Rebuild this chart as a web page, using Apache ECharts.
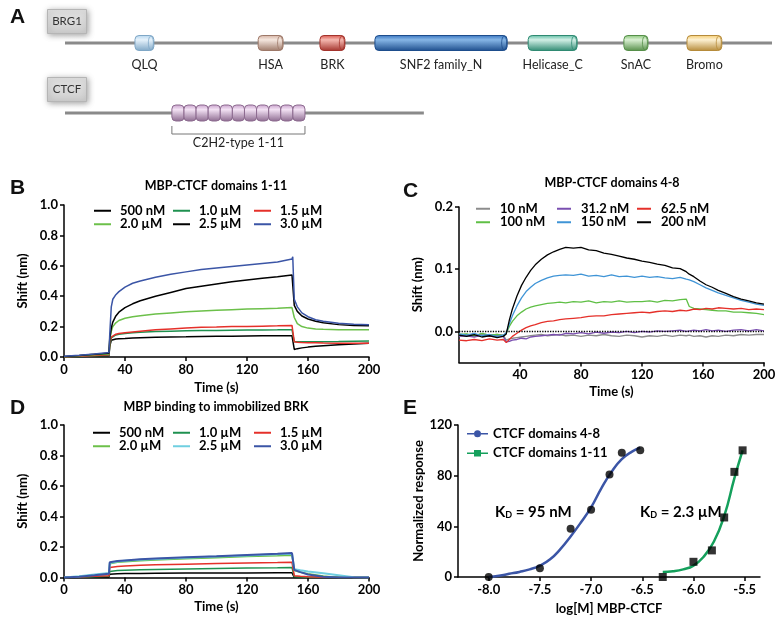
<!DOCTYPE html>
<html>
<head>
<meta charset="utf-8">
<script src="https://cdn.jsdelivr.net/npm/echarts@6/dist/echarts.min.js"></script>
<style>
  html, body { margin: 0; padding: 0; background: #fff; }
  #main { width: 780px; height: 622px; }
</style>
</head>
<body>
<div id="main"></div>
<script>
// ---- panel A: domain maps (positions in residues) ----
const brg1Length = 1647;
const ctcfLength = 836;
const brg1Domains = [
    ['QLQ', 163, 207],
    ['HSA', 450, 508],
    ['BRK', 594, 652],
    ['SNF2 family_N', 722, 1030],
    ['Helicase_C', 1079, 1193],
    ['SnAC', 1302, 1358],
    ['Bromo', 1449, 1530],
];
const ctcfFingers = ['C2H2-type 1-11', 249, 559, 11];

// ---- panel B: MBP-CTCF domains 1-11 ----
const bTime = [0, 10, 20, 29.5, 30, 31, 32, 34, 36, 40, 45, 50, 60, 70, 80, 90, 100, 110, 120, 130, 140, 149.5, 150, 151, 153, 156, 160, 165, 170, 180, 190, 200];
const b500 = [0, 0.003, 0.006, 0.01, 0.07, 0.11, 0.115, 0.118, 0.12, 0.122, 0.125, 0.127, 0.13, 0.132, 0.133, 0.135, 0.136, 0.137, 0.138, 0.139, 0.14, 0.14, 0.14, 0.05, 0.055, 0.06, 0.065, 0.07, 0.074, 0.08, 0.085, 0.09];
const b1000 = [0, 0.004, 0.008, 0.012, 0.08, 0.125, 0.135, 0.145, 0.15, 0.155, 0.16, 0.163, 0.167, 0.17, 0.172, 0.174, 0.175, 0.176, 0.177, 0.178, 0.179, 0.18, 0.18, 0.1, 0.1, 0.1, 0.1, 0.1, 0.101, 0.102, 0.104, 0.105];
const b1500 = [0, 0.005, 0.01, 0.015, 0.09, 0.13, 0.14, 0.15, 0.155, 0.16, 0.165, 0.17, 0.18, 0.185, 0.19, 0.195, 0.197, 0.2, 0.2, 0.203, 0.205, 0.208, 0.21, 0.1, 0.097, 0.095, 0.094, 0.093, 0.092, 0.091, 0.09, 0.09];
const b2000 = [0.002, 0.008, 0.014, 0.02, 0.11, 0.17, 0.2, 0.225, 0.24, 0.255, 0.265, 0.272, 0.283, 0.29, 0.297, 0.302, 0.307, 0.311, 0.315, 0.318, 0.321, 0.325, 0.328, 0.26, 0.22, 0.2, 0.19, 0.185, 0.183, 0.18, 0.18, 0.18];
const b2500 = [0.003, 0.01, 0.018, 0.025, 0.12, 0.19, 0.23, 0.27, 0.295, 0.325, 0.35, 0.37, 0.4, 0.425, 0.45, 0.465, 0.48, 0.495, 0.507, 0.518, 0.528, 0.54, 0.55, 0.34, 0.3, 0.27, 0.25, 0.235, 0.225, 0.213, 0.207, 0.205];
const b3000 = [0.005, 0.012, 0.02, 0.03, 0.15, 0.33, 0.38, 0.41, 0.43, 0.46, 0.485, 0.5, 0.525, 0.545, 0.56, 0.575, 0.585, 0.595, 0.605, 0.615, 0.625, 0.645, 0.66, 0.38, 0.33, 0.29, 0.265, 0.245, 0.235, 0.222, 0.215, 0.212];

// ---- panel C: MBP-CTCF domains 4-8 ----
const cTime = [0, 5, 10, 15, 20, 25, 29, 31, 33, 35, 38, 41, 44, 47, 50, 54, 58, 62, 66, 70, 75, 80, 85, 90, 95, 100, 105, 110, 115, 120, 125, 130, 135, 140, 145, 149, 151, 154, 158, 162, 166, 170, 175, 180, 185, 190, 195, 200];
const c10 = [-0.006, -0.005, -0.007, -0.004, -0.006, -0.005, -0.006, -0.014, -0.012, -0.011, -0.01, -0.009, -0.008, -0.007, -0.006, -0.005, -0.007, -0.006, -0.005, -0.007, -0.006, -0.008, -0.006, -0.007, -0.005, -0.007, -0.008, -0.006, -0.007, -0.009, -0.007, -0.008, -0.006, -0.008, -0.006, -0.007, -0.006, -0.008, -0.007, -0.009, -0.007, -0.008, -0.006, -0.007, -0.005, -0.006, -0.005, -0.005];
const c31 = [-0.008, -0.007, -0.009, -0.006, -0.008, -0.007, -0.008, -0.017, -0.016, -0.014, -0.013, -0.011, -0.012, -0.009, -0.008, -0.007, -0.006, -0.005, -0.006, -0.003, -0.004, -0.002, -0.004, -0.001, -0.003, -0.001, -0.002, 0, -0.002, 0, -0.001, 0.001, 0, 0.001, 0.002, 0, 0.001, 0.002, 0.001, 0.003, 0.001, 0.002, 0, 0.002, 0.003, 0.001, 0.003, 0.001];
const c62 = [-0.014, -0.015, -0.013, -0.015, -0.012, -0.014, -0.013, -0.018, -0.013, -0.008, -0.003, 0.002, 0.006, 0.009, 0.011, 0.014, 0.016, 0.017, 0.019, 0.02, 0.021, 0.022, 0.024, 0.025, 0.025, 0.027, 0.028, 0.029, 0.03, 0.031, 0.03, 0.032, 0.033, 0.032, 0.034, 0.033, 0.034, 0.036, 0.035, 0.037, 0.036, 0.038, 0.037, 0.036, 0.037, 0.035, 0.036, 0.035];
const c100 = [-0.005, -0.004, -0.007, -0.003, -0.006, -0.005, -0.007, -0.003, 0.008, 0.016, 0.025, 0.031, 0.036, 0.039, 0.041, 0.043, 0.045, 0.046, 0.047, 0.046, 0.048, 0.047, 0.049, 0.046, 0.048, 0.047, 0.049, 0.047, 0.048, 0.048, 0.049, 0.047, 0.05, 0.049, 0.051, 0.052, 0.04, 0.037, 0.036, 0.035, 0.034, 0.033, 0.033, 0.031, 0.031, 0.03, 0.029, 0.027];
const c150 = [-0.004, -0.006, -0.003, -0.007, -0.005, -0.008, -0.006, -0.002, 0.012, 0.025, 0.041, 0.054, 0.064, 0.071, 0.077, 0.082, 0.086, 0.089, 0.09, 0.091, 0.09, 0.092, 0.089, 0.09, 0.088, 0.091, 0.088, 0.089, 0.087, 0.089, 0.087, 0.088, 0.086, 0.085, 0.087, 0.084, 0.083, 0.08, 0.075, 0.07, 0.066, 0.062, 0.058, 0.054, 0.05, 0.047, 0.044, 0.042];
const c200 = [-0.006, -0.008, -0.005, -0.009, -0.007, -0.01, -0.008, -0.004, 0.018, 0.036, 0.057, 0.074, 0.087, 0.098, 0.107, 0.116, 0.123, 0.128, 0.132, 0.135, 0.134, 0.135, 0.131, 0.13, 0.126, 0.124, 0.121, 0.118, 0.116, 0.113, 0.111, 0.108, 0.106, 0.102, 0.101, 0.096, 0.092, 0.088, 0.081, 0.075, 0.071, 0.066, 0.061, 0.056, 0.052, 0.049, 0.046, 0.044];

// ---- panel D: MBP binding to immobilized BRK ----
const dTime = [0, 10, 20, 29.5, 30, 31, 35, 40, 50, 60, 80, 100, 120, 140, 149.5, 150, 151, 155, 160, 170, 180, 190, 200];
const d500 = [0, 0.001, 0.002, 0.004, 0.022, 0.024, 0.025, 0.026, 0.027, 0.028, 0.029, 0.03, 0.03, 0.031, 0.031, 0.031, 0, 0, 0, 0, 0, 0, 0];
const d1000 = [0, 0.002, 0.005, 0.008, 0.04, 0.043, 0.046, 0.048, 0.051, 0.053, 0.056, 0.059, 0.062, 0.064, 0.065, 0.065, 0.005, 0.003, 0.002, 0, 0, 0, 0];
const d1500 = [0, 0.003, 0.008, 0.012, 0.065, 0.068, 0.072, 0.075, 0.08, 0.083, 0.087, 0.091, 0.095, 0.098, 0.1, 0.1, 0.012, 0.008, 0.005, 0.002, 0, 0, 0];
const d2000 = [0, 0.006, 0.017, 0.028, 0.09, 0.095, 0.1, 0.104, 0.11, 0.115, 0.123, 0.13, 0.137, 0.143, 0.146, 0.148, 0.045, 0.035, 0.025, 0.01, 0, 0, 0];
const d2500 = [0, 0.008, 0.02, 0.03, 0.095, 0.1, 0.105, 0.11, 0.117, 0.122, 0.13, 0.137, 0.145, 0.152, 0.156, 0.158, 0.055, 0.048, 0.04, 0.028, 0.015, 0.002, 0];
const d3000 = [0, 0.005, 0.015, 0.025, 0.1, 0.103, 0.108, 0.112, 0.12, 0.125, 0.133, 0.14, 0.148, 0.155, 0.16, 0.165, 0.05, 0.035, 0.02, 0.005, 0, 0, 0];

// ---- panel E: dose response ----
const e48Log = [-8.0, -7.5, -7.2, -7.0, -6.82, -6.7, -6.52];
const e48Resp = [0, 7, 38, 53, 81, 98, 100];
const e48FitLog = [-8.0, -7.9, -7.8, -7.7, -7.6, -7.5, -7.4, -7.3, -7.2, -7.1, -7.0, -6.9, -6.8, -6.7, -6.6, -6.52];
const e48FitResp = [0, 1, 2.5, 4, 6, 9, 14, 22, 32, 43, 55, 70, 83, 93, 99, 102];
const e111Log = [-6.3, -6.0, -5.82, -5.7, -5.6, -5.52];
const e111Resp = [0, 12, 21, 47, 83, 100];
const e111FitLog = [-6.3, -6.2, -6.1, -6.0, -5.9, -5.8, -5.7, -5.6, -5.52];
const e111FitResp = [4, 4.5, 6, 9, 16, 28, 48, 78, 100];
const eTicks = [-8.0, -7.5, -7.0, -6.5, -6.0, -5.5];

const zip = (xs, ys) => xs.map((x, i) => [x, ys[i]]);

const domainColors = {
    'QLQ': ['#e6f2fb', '#b4d5ee', '#7fa7c6'],
    'HSA': ['#f5e7df', '#d4b1a1', '#9d7868'],
    'BRK': ['#f5b8b0', '#d8534a', '#a3332c'],
    'SNF2 family_N': ['#86b6e6', '#3673bf', '#1d4d8c'],
    'Helicase_C': ['#d2efe6', '#5cbca2', '#2f8a72'],
    'SnAC': ['#daf0d3', '#86c576', '#568f49'],
    'Bromo': ['#fdf1d2', '#f5cb6d', '#b68b3a'],
    'C2H2': ['#f3e2f4', '#c8a0cb', '#8c6a8f'],
};

const font = 'Lato, "Open Sans", sans-serif';
const tickFont = { color: '#000', fontSize: 13, fontWeight: 'bold', fontFamily: font };

function cylinder(x0, x1, cy, h, c) {
    return [
        {
            type: 'rect',
            shape: { x: x0, y: cy - h / 2, width: x1 - x0, height: h, r: 4 },
            style: {
                fill: new echarts.graphic.LinearGradient(0, 0, 0, 1, [
                    { offset: 0, color: c[1] },
                    { offset: 0.3, color: c[0] },
                    { offset: 1, color: c[2] },
                ]),
                stroke: c[2],
                lineWidth: 1,
            },
        },
        {
            type: 'ellipse',
            shape: { cx: x1 - 3, cy: cy, rx: 2.5, ry: h / 2 - 0.5 },
            style: { fill: 'none', stroke: c[2], lineWidth: 0.8 },
        },
    ];
}

function renderBackbone(params, api) {
    const p0 = api.coord([api.value(0), api.value(2)]);
    const p1 = api.coord([api.value(1), api.value(2)]);
    return {
        type: 'line',
        shape: { x1: p0[0], y1: p0[1], x2: p1[0], y2: p1[1] },
        style: { stroke: '#8a8a8a', lineWidth: 3 },
    };
}

function renderDomain(params, api) {
    const name = brg1Domains[params.dataIndex][0];
    const p0 = api.coord([api.value(0), api.value(2)]);
    const p1 = api.coord([api.value(1), api.value(2)]);
    const kids = cylinder(p0[0], p1[0], p0[1], 15, domainColors[name]);
    kids.push({
        type: 'text',
        style: {
            text: name, x: (p0[0] + p1[0]) / 2, y: p0[1] + 22,
            align: 'center', verticalAlign: 'middle',
            fontSize: 12.5, fontFamily: font, fill: '#222',
        },
    });
    return { type: 'group', children: kids };
}

function renderFingers(params, api) {
    const p0 = api.coord([api.value(0), api.value(2)]);
    const p1 = api.coord([api.value(1), api.value(2)]);
    const n = ctcfFingers[3];
    const w = (p1[0] - p0[0]) / n;
    let kids = [];
    for (let i = 0; i < n; i++) {
        kids = kids.concat(cylinder(p0[0] + i * w, p0[0] + (i + 1) * w, p0[1], 16, domainColors['C2H2']).slice(0, 1));
    }
    const by = p0[1] + 21;
    kids.push({
        type: 'polyline',
        shape: { points: [[p0[0], by - 8], [p0[0], by], [p1[0], by], [p1[0], by - 8]] },
        style: { stroke: '#777', lineWidth: 1, fill: 'none' },
    });
    kids.push({
        type: 'text',
        style: {
            text: ctcfFingers[0], x: (p0[0] + p1[0]) / 2, y: by + 9,
            align: 'center', verticalAlign: 'middle',
            fontSize: 12.5, fontFamily: font, fill: '#222',
        },
    });
    return { type: 'group', children: kids };
}

function valueAxis(gridIndex, extra) {
    const label = Object.assign({ margin: 6 }, tickFont, extra.axisLabel || {});
    const tick = Object.assign({ show: true, length: 4, lineStyle: { color: '#000', width: 1.5 } }, extra.axisTick || {});
    const ax = Object.assign({
        type: 'value',
        gridIndex: gridIndex,
        nameLocation: 'middle',
        nameTextStyle: { color: '#000', fontSize: 13, fontWeight: 'bold', fontFamily: font },
        axisLine: { show: true, onZero: false, lineStyle: { color: '#000', width: 1.5 } },
        splitLine: { show: false },
    }, extra);
    ax.axisLabel = label;
    ax.axisTick = tick;
    return ax;
}

const fmt1 = v => v.toFixed(1);

function traceSeries(prefix, name, xs, ys, color, axis, width) {
    return {
        name: prefix + name,
        type: 'line',
        xAxisIndex: axis,
        yAxisIndex: axis,
        data: zip(xs, ys),
        showSymbol: false,
        symbol: 'none',
        color: color,
        lineStyle: { color: color, width: width || 1.5 },
        clip: true,
    };
}

function colLegend(names, left, top, iconW, textPad) {
    return {
        data: names,
        left: left,
        top: top,
        orient: 'vertical',
        padding: 0,
        itemGap: 0,
        itemWidth: iconW,
        itemHeight: 2,
        icon: 'rect',
        selectedMode: false,
        formatter: n => n.split(':')[1],
        textStyle: { color: '#000', fontSize: 13, fontWeight: 'bold', fontFamily: font, lineHeight: 13.5, padding: [0, 0, 0, textPad] },
    };
}

const chart = echarts.init(document.getElementById('main'));

const bSeries = [
    traceSeries('B:', '500 nM', bTime, b500, '#000000', 1),
    traceSeries('B:', '1.0 µM', bTime, b1000, '#1f9150', 1),
    traceSeries('B:', '1.5 µM', bTime, b1500, '#e5302a', 1),
    traceSeries('B:', '2.0 µM', bTime, b2000, '#6cc04a', 1),
    traceSeries('B:', '2.5 µM', bTime, b2500, '#000000', 1),
    traceSeries('B:', '3.0 µM', bTime, b3000, '#3b55a6', 1),
];
const cSeries = [
    traceSeries('C:', '10 nM', cTime, c10, '#8c8c8c', 2, 1.3),
    traceSeries('C:', '31.2 nM', cTime, c31, '#7a4fb0', 2, 1.3),
    traceSeries('C:', '100 nM', cTime, c100, '#5fbf45', 2, 1.3),
    traceSeries('C:', '150 nM', cTime, c150, '#3f94d6', 2, 1.3),
    traceSeries('C:', '62.5 nM', cTime, c62, '#e5302a', 2, 1.3),
    traceSeries('C:', '200 nM', cTime, c200, '#000000', 2, 1.3),
];
cSeries[0].markLine = {
    silent: true, symbol: 'none', label: { show: false },
    lineStyle: { type: 'dotted', color: '#000', width: 1.3 },
    data: [{ yAxis: 0 }],
};
const dSeries = [
    traceSeries('D:', '500 nM', dTime, d500, '#000000', 3),
    traceSeries('D:', '1.0 µM', dTime, d1000, '#1f9150', 3),
    traceSeries('D:', '1.5 µM', dTime, d1500, '#e5302a', 3),
    traceSeries('D:', '2.0 µM', dTime, d2000, '#6cc04a', 3),
    traceSeries('D:', '2.5 µM', dTime, d2500, '#6fcfe0', 3, 2),
    traceSeries('D:', '3.0 µM', dTime, d3000, '#3b55a6', 3, 2),
];

const eSeries = [
    {
        name: 'E:CTCF domains 4-8', type: 'line', xAxisIndex: 4, yAxisIndex: 4,
        data: zip(e48FitLog, e48FitResp), smooth: true, showSymbol: false, symbol: 'none',
        color: '#3b55a6', lineStyle: { color: '#3b55a6', width: 2.5 },
    },
    {
        name: 'E:CTCF domains 1-11', type: 'line', xAxisIndex: 4, yAxisIndex: 4,
        data: zip(e111FitLog, e111FitResp), smooth: true, showSymbol: false, symbol: 'none',
        color: '#15a05c', lineStyle: { color: '#15a05c', width: 2.5 },
    },
    {
        name: 'pts48', type: 'scatter', xAxisIndex: 4, yAxisIndex: 4,
        data: zip(e48Log, e48Resp), symbol: 'circle', symbolSize: 8,
        itemStyle: { color: '#000' }, clip: false, z: 5,
    },
    {
        name: 'pts111', type: 'scatter', xAxisIndex: 4, yAxisIndex: 4,
        data: zip(e111Log, e111Resp), symbol: 'rect', symbolSize: 8,
        itemStyle: { color: '#000' }, clip: false, z: 5,
    },
];

const aSeries = [
    {
        type: 'custom', xAxisIndex: 0, yAxisIndex: 0, renderItem: renderBackbone,
        data: [[0, brg1Length, 0], [0, ctcfLength, 1]], silent: true, z: 1,
    },
    {
        type: 'custom', xAxisIndex: 0, yAxisIndex: 0, renderItem: renderDomain,
        data: brg1Domains.map(d => [d[1], d[2], 0]), silent: true, z: 2,
    },
    {
        type: 'custom', xAxisIndex: 0, yAxisIndex: 0, renderItem: renderFingers,
        data: [[ctcfFingers[1], ctcfFingers[2], 1]], silent: true, z: 2,
    },
];

const letter = (t, left, top) => ({
    text: t, left: left, top: top, padding: 0,
    textStyle: { fontSize: 21, fontWeight: 'bold', fontFamily: '"Liberation Sans", Arial, sans-serif', color: '#111' },
});
const panelTitle = (t, left, top) => ({
    text: t, left: left, top: top, padding: 0, textAlign: 'center',
    textStyle: { fontSize: 12.5, fontWeight: 'bold', fontFamily: font, color: '#000' },
});

function nameBox(label, x, y) {
    return {
        type: 'group', left: x, top: y,
        children: [
            {
                type: 'rect', shape: { x: 0, y: 0, width: 39, height: 24 },
                style: {
                    fill: new echarts.graphic.LinearGradient(0, 0, 0, 1, [
                        { offset: 0, color: '#e4e4e4' }, { offset: 1, color: '#cfcfcf' }]),
                    stroke: '#b5b5b5', lineWidth: 1,
                    shadowBlur: 6, shadowColor: 'rgba(0,0,0,0.35)', shadowOffsetX: 1, shadowOffsetY: 1,
                },
            },
            {
                type: 'text', x: 19.5, y: 12,
                style: { text: label, align: 'center', verticalAlign: 'middle', fontSize: 11.5, fontFamily: font, fill: '#333' },
            },
        ],
    };
}

function kdText(value, x, y) {
    return {
        type: 'text', left: x, top: y,
        style: {
            text: '{k|K}{d|D}{k| = ' + value + '}',
            rich: {
                k: { fontSize: 15, fontWeight: 'bold', fontFamily: font, fill: '#000', color: '#000' },
                d: { fontSize: 9, fontWeight: 'bold', fontFamily: font, fill: '#000', color: '#000', verticalAlign: 'bottom', padding: [6, 0, 0, 0] },
            },
        },
    };
}

const option = {
    animation: false,
    backgroundColor: '#fff',
    title: [
        letter('A', 10, 7),
        letter('B', 10, 178),
        letter('C', 403, 181),
        letter('D', 10, 398),
        letter('E', 403, 398),
        panelTitle('MBP-CTCF domains 1-11', 216, 179),
        panelTitle('MBP-CTCF domains 4-8', 612, 176),
        panelTitle('MBP binding to immobilized BRK', 216, 400),
    ],
    grid: [
        { left: 65, top: 8, width: 707, height: 140 },
        { left: 64, top: 205, width: 305, height: 152 },
        { left: 459, top: 207, width: 305, height: 155.5 },
        { left: 64, top: 425, width: 305, height: 152.5 },
        { left: 458, top: 425, width: 302, height: 152 },
    ],
    xAxis: [
        { type: 'value', gridIndex: 0, min: 0, max: brg1Length, show: false },
        valueAxis(1, { min: 0, max: 200, interval: 40, name: 'Time (s)', nameGap: 24 }),
        valueAxis(2, { min: 0, max: 200, interval: 40, name: 'Time (s)', nameGap: 23, axisLabel: { showMinLabel: false } }),
        valueAxis(3, { min: 0, max: 200, interval: 40, name: 'Time (s)', nameGap: 23 }),
        valueAxis(4, {
            min: -8.3, max: -5.35, name: 'log[M] MBP-CTCF', nameGap: 25,
            axisLabel: { customValues: eTicks, formatter: fmt1 },
            axisTick: { customValues: eTicks },
        }),
    ],
    yAxis: [
        { type: 'category', gridIndex: 0, data: ['BRG1', 'CTCF'], inverse: true, show: false },
        valueAxis(1, { min: 0, max: 1, interval: 0.2, name: 'Shift (nm)', nameGap: 35, axisLabel: { formatter: fmt1 } }),
        valueAxis(2, {
            min: -0.05, max: 0.2, name: 'Shift (nm)', nameGap: 35,
            axisLabel: { customValues: [0, 0.1, 0.2], formatter: fmt1 },
            axisTick: { customValues: [0, 0.1, 0.2] },
        }),
        valueAxis(3, { min: 0, max: 1, interval: 0.2, name: 'Shift (nm)', nameGap: 35, axisLabel: { formatter: fmt1 } }),
        valueAxis(4, { min: 0, max: 120, interval: 40, name: 'Normalized response', nameGap: 33 }),
    ],
    legend: [
        colLegend(['B:500 nM', 'B:2.0 µM'], 94, 204, 17, 4),
        colLegend(['B:1.0 µM', 'B:2.5 µM'], 173, 204, 17, 4),
        colLegend(['B:1.5 µM', 'B:3.0 µM'], 254, 204, 17, 4),
        colLegend(['C:10 nM', 'C:100 nM'], 476, 202, 14, 5),
        colLegend(['C:31.2 nM', 'C:150 nM'], 557, 202, 14, 5),
        colLegend(['C:62.5 nM', 'C:200 nM'], 637, 202, 14, 5),
        colLegend(['D:500 nM', 'D:2.0 µM'], 93, 426, 17, 4),
        colLegend(['D:1.0 µM', 'D:2.5 µM'], 173, 426, 17, 4),
        colLegend(['D:1.5 µM', 'D:3.0 µM'], 254, 426, 17, 4),
        {
            data: [
                { name: 'E:CTCF domains 4-8', icon: 'path://M0,9H14V12H0Z M28,9H42V12H28Z M14,10.5a7,7 0 1,0 14,0a7,7 0 1,0 -14,0Z' },
                { name: 'E:CTCF domains 1-11', icon: 'path://M0,9H14V12H0Z M28,9H42V12H28Z M14,4H28V17H14Z' },
            ],
            left: 467, top: 427, orient: 'vertical', padding: 0, itemGap: 6,
            itemWidth: 21, itemHeight: 10, selectedMode: false,
            formatter: n => n.split(':')[1],
            textStyle: { color: '#000', fontSize: 13, fontWeight: 'bold', fontFamily: font, lineHeight: 13.5 },
        },
    ],
    graphic: [
        nameBox('BRG1', 47, 9),
        nameBox('CTCF', 47, 77),
        kdText('95 nM', 495, 505),
        kdText('2.3 µM', 640, 505),
    ],
    series: [].concat(aSeries, bSeries, cSeries, dSeries, eSeries),
};

chart.setOption(option);
</script>
</body>
</html>
